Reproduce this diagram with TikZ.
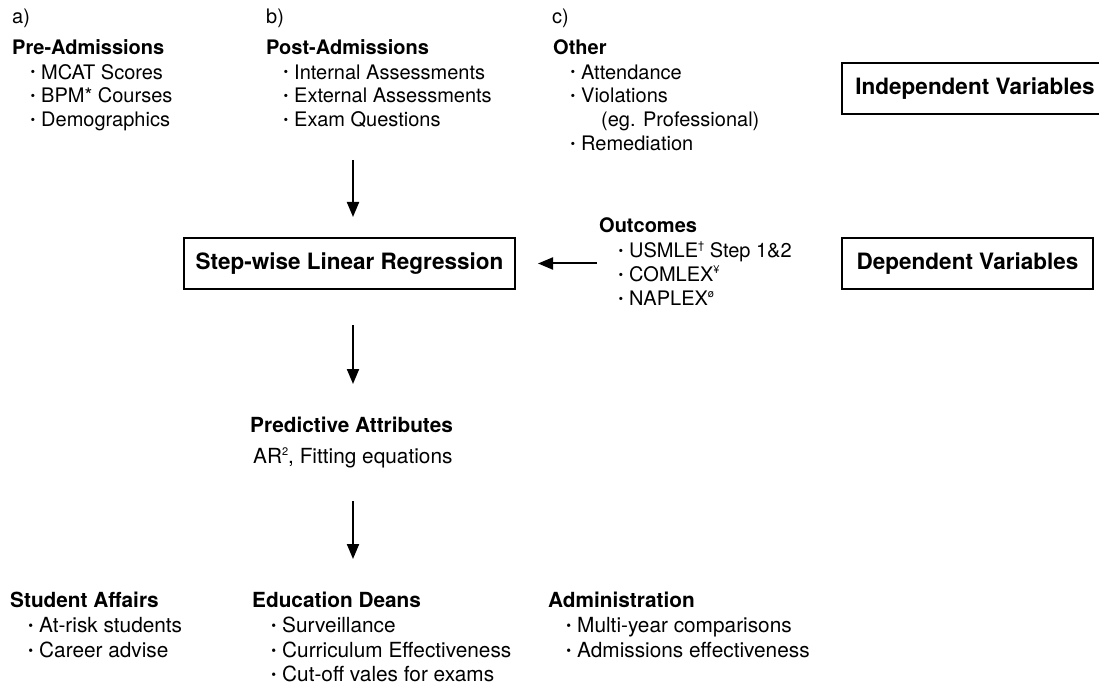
\documentclass[tikz,border=0pt]{standalone}
\usepackage{fontspec}
\setmainfont{TeX Gyre Heros}
\usepackage{graphicx}
\usetikzlibrary{arrows.meta}
\newcommand\bul{\llap{\raisebox{0.12em}{\scalebox{0.66}{•}}\hspace{6pt}}}
\newcommand\mysup[1]{\raisebox{0.4em}{\fontsize{11}{11}\selectfont #1}}
\begin{document}
\begin{tikzpicture}[x=1pt,y=-1pt,
  txt/.style={anchor=base west,inner sep=0pt,font=\fontsize{20}{24}\selectfont},
  head/.style={anchor=base west,inner sep=0pt,font=\fontsize{20}{24}\selectfont\bfseries},
  txtb/.style={anchor=base west,inner sep=0pt,font=\fontsize{20.8}{25}\selectfont},
  headb/.style={anchor=base west,inner sep=0pt,font=\fontsize{20.8}{25}\selectfont\bfseries},
  varbox/.style={draw,line width=1.3pt,minimum height=51pt,inner sep=0pt,font=\fontsize{22.5}{26}\selectfont\bfseries},
  arr/.style={line width=2pt,-{Triangle[length=15pt,width=12pt]}}]
\useasboundingbox (0,0) rectangle (1099,684);
\clip (0,0) rectangle (1099,684);
% column a
\node[txt] (la) at (12,23.5) {a)};
\node[head] (pre) at (12,54.2) {Pre-Admissions};
\node[txt] (pre1) at (41,79.2) {\bul MCAT Scores};
\node[txt] (pre2) at (41,103) {\bul BPM* Courses};
\node[txt] (pre3) at (41,126.8) {\bul Demographics};
% column b
\node[txt] (lb) at (266,23.5) {b)};
\node[head] (post) at (266,54.2) {Post-Admissions};
\node[txt] (post1) at (294,79.2) {\bul Internal Assessments};
\node[txt] (post2) at (294,103) {\bul External Assessments};
\node[txt] (post3) at (294,126.8) {\bul Exam Questions};
% column c
\node[txt] (lc) at (552,23.5) {c)};
\node[head] (oth) at (553,54.2) {Other};
\node[txt] (oth1) at (581,79.2) {\bul Attendance};
\node[txt] (oth2) at (581,103) {\bul Violations};
\node[txt] (oth2b) at (601,126.8) {(eg. Professional)};
\node[txt] (oth3) at (581,150.6) {\bul Remediation};
% boxes
\node[varbox,minimum width=266pt] (ind) at (975,88.5) {Independent Variables};
\node[varbox,minimum width=251pt] (dep) at (967.5,263.5) {Dependent Variables};
\node[varbox,minimum width=331pt] (slr) at (349.5,263.5) {Step-wise Linear Regression};
% outcomes
\node[head] (out) at (599,232.5) {Outcomes};
\node[txt] (out1) at (629,257.5) {\bul USMLE\mysup{†} Step 1\&2};
\node[txt] (out2) at (629,281.5) {\bul COMLEX\mysup{¥}};
\node[txt] (out3) at (629,305.5) {\bul NAPLEX\mysup{ø}};
% predictive
\node[headb] (pred) at (250,432.5) {Predictive Attributes};
\node[txtb] (ar) at (253,463.5) {AR\mysup{2}, Fitting equations};
% bottom
\node[headb] (sa) at (10,607.5) {Student Affairs};
\node[txtb] (sa1) at (39,632.5) {\bul At-risk students};
\node[txtb] (sa2) at (39,657.5) {\bul Career advise};
\node[headb] (ed) at (252,607.5) {Education Deans};
\node[txtb] (ed1) at (282,632.5) {\bul Surveillance};
\node[txtb] (ed2) at (282,657.5) {\bul Curriculum Effectiveness};
\node[txtb] (ed3) at (282,681.5) {\bul Cut-off vales for exams};
\node[headb] (adm) at (548,607.5) {Administration};
\node[txtb] (adm1) at (577,632.5) {\bul Multi-year comparisons};
\node[txtb] (adm2) at (577,657.5) {\bul Admissions effectiveness};
% arrows
\coordinate (a1s) at (353,160);
\coordinate (a1e) at (353,217);
\coordinate (a2s) at (353,325);
\coordinate (a2e) at (353,384);
\coordinate (a3s) at (353,501);
\coordinate (a3e) at (353,559);
\coordinate (a4s) at (597,263.5);
\coordinate (a4e) at (538,263.5);
\draw[arr] (a1s) -- (a1e);
\draw[arr] (a2s) -- (a2e);
\draw[arr] (a3s) -- (a3e);
\draw[arr] (a4s) -- (a4e);
\end{tikzpicture}
\end{document}
